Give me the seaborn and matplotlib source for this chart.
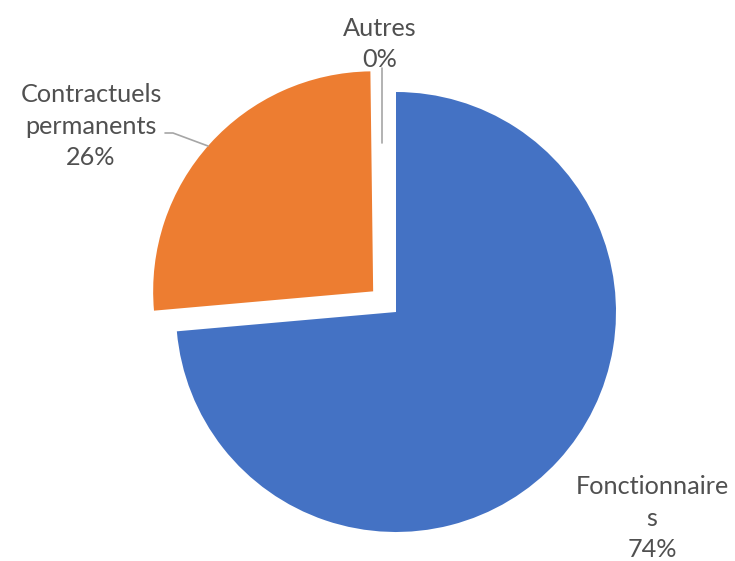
import numpy as np
import matplotlib
matplotlib.use("Agg")
import matplotlib.pyplot as plt
import seaborn as sns

# data
categories = ["Fonctionnaires", "Contractuels permanents", "Autres"]
label_text = ["Fonctionnaire\ns", "Contractuels\npermanents", "Autres"]
values = [73.6, 26.2, 0.2]
colors = ["#4472C4", "#ED7D31", "#A5A5A5"]
explode_frac = [0.0, 0.14, 0.14]

sns.set_theme(style="white")
plt.rcParams["font.family"] = ["Lato", "DejaVu Sans"]

W, H = 735, 561
fig = plt.figure(figsize=(W / 100, H / 100), dpi=100)
ax = fig.add_axes([0, 0, 1, 1])

center = (396, H - 312)
radius = 220
# matplotlib's explode is in data units, so scale by the radius
explode = [e * radius for e in explode_frac]
wedges, _ = ax.pie(values, colors=colors, explode=explode, startangle=90,
                   counterclock=False, center=center, radius=radius,
                   wedgeprops=dict(linewidth=0), frame=True)
ax.set_xlim(0, W)
ax.set_ylim(0, H)
ax.set_aspect("equal")
ax.axis("off")
# the 0% slice is not visible in the original
wedges[2].set_visible(False)

total = sum(values)
pcts = [f"{round(v / total * 100):.0f}%" for v in values]

txt_color = "#505050"
fs = 18.2
ax.text(652, H - 518, label_text[0] + "\n" + pcts[0], ha="center", va="center",
        fontsize=fs, color=txt_color, linespacing=1.44)
ax.text(91, H - 126, label_text[1] + "\n" + pcts[1], ha="center", va="center",
        fontsize=fs, color=txt_color, linespacing=1.44)
ax.text(380, H - 44, label_text[2] + "\n" + pcts[2], ha="center", va="center",
        fontsize=fs, color=txt_color, linespacing=1.44)

# leader lines
ax.plot([165, 173, 208], [H - 133, H - 133, H - 146], color="#A6A6A6", lw=1.2)
ax.plot([382, 382], [H - 68, H - 143], color="#A6A6A6", lw=1.2)

fig.savefig("out.png", dpi=100, facecolor="white")
